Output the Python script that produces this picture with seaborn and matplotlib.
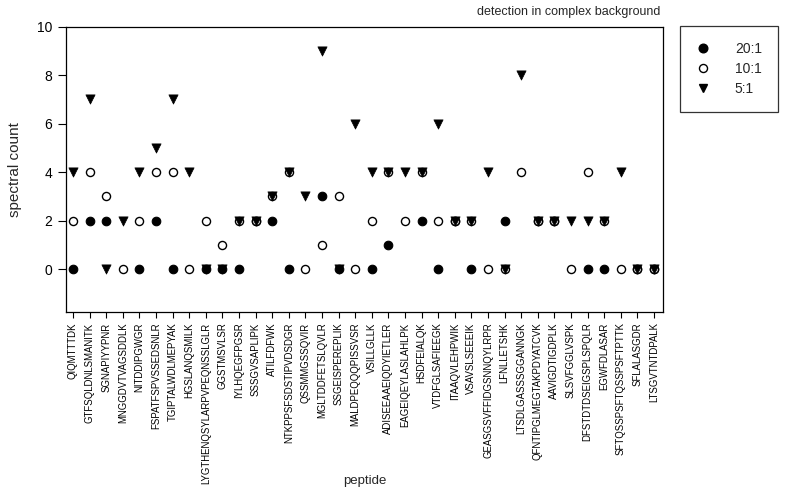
import numpy as np
import pandas as pd
import matplotlib
matplotlib.use("Agg")
import matplotlib.pyplot as plt
import seaborn as sns
from matplotlib.lines import Line2D

peptides = [
    "QIQMTTTDK", "GTFSQLDNLSMANITK", "SGNAPIYYPNR", "MNGGDVTVAGSDDLK",
    "NITDDIPGWGR", "FSPATFSPVSSEDSNLR", "TGIPTALWDLMEPYAK", "HGSLANQSMILK",
    "LYGTHENQSYLARPVPEQNSSLGLR", "GGSTMSVLSR", "IYLHQEGFPGSR", "SSSGVSAPLIPK",
    "ATILFDFWK", "NTKPPSFSDSTIPVDSDGR", "QSSMMGSSQVIR", "MGLTDDFETSLQVLR",
    "SSGEISPEREPLIK", "MALDPEQQQPISSVSR", "VSILLGLLK", "ADISEEAAEIQDYIETLER",
    "EAGEIQEYLASLAHLPK", "HSDFEIALQK", "VTDFGLSAFIEEGK", "ITAAQVLEHPWIK",
    "VSAVSLSEEEIK", "GEASGSVFFIDGSNNQYLRPR", "LFNLLETSHK", "LTSDLGASSSGGANNGK",
    "QFNTIPGLMEGTAKPDYATCVK", "AAVIGDTIGDPLK", "SLSVFGGLVSPK",
    "DFSTDTDSEIGSPLSPQLR", "EGWFDLASAR", "SFTQSSPSFTQSSPSFTPTTK",
    "SFLALASGDR", "LTSGVTNTDPALK",
]
nan = np.nan
ratio_20 = [0, 2, 2, nan, 0, 2, 0, nan, 0, 0, 0, 2, 2, 0, nan, 3, 0, nan,
            0, 1, nan, 2, 0, 2, 0, nan, 2, nan, 2, 2, nan, 0, 0, nan, 0, 0]
ratio_10 = [2, 4, 3, 0, 2, 4, 4, 0, 2, 1, 2, 2, 3, 4, 0, 1, 3, 0,
            2, 4, 2, 4, 2, 2, 2, 0, 0, 4, 2, 2, 0, 4, 2, 0, 0, 0]
ratio_5 = [4, 7, 0, 2, 4, 5, 7, 4, 0, 0, 2, 2, 3, 4, 3, 9, 0, 6,
           4, 4, 4, 4, 6, 2, 2, 4, 0, 8, 2, 2, 2, 2, 2, 4, 0, 0]
legend_labels = ["20:1", "10:1", "5:1"]

sns.set_style("ticks")
plt.rcParams["font.family"] = ["Liberation Sans", "DejaVu Sans"]

df = pd.DataFrame({"pos": np.arange(len(peptides)), "peptide": peptides,
                   "r20": ratio_20, "r10": ratio_10, "r5": ratio_5})

W, H = 787, 495
fig = plt.figure(figsize=(W / 100, H / 100), dpi=100)
ax = fig.add_axes([66 / W, 1 - 312 / H, (663 - 66) / W, (312 - 26.7) / H])

sns.scatterplot(data=df, x="pos", y="r20", ax=ax, marker="o", s=38,
                color="black", edgecolor="black", linewidth=0.8, zorder=3)
sns.scatterplot(data=df, x="pos", y="r10", ax=ax, marker="o", s=34,
                facecolor="white", edgecolor="black", linewidth=1.0, zorder=4)
sns.scatterplot(data=df, x="pos", y="r5", ax=ax, marker="v", s=44,
                color="black", edgecolor="black", linewidth=0.5, zorder=5)

ax.set_xlim(-0.42, len(peptides) - 1 + 0.54)
ax.set_ylim(-1.77, 10.0)
ax.set_yticks([0, 2, 4, 6, 8, 10])
ax.set_xticks(df["pos"])
ax.set_xticklabels(peptides, rotation=90, fontsize=6.9)
ax.tick_params(axis="y", labelsize=10, length=6, width=0.8, pad=4, colors="black")
ax.tick_params(axis="x", length=4.5, width=0.8, pad=3, colors="black")
ax.set_xlabel("")
ax.set_ylabel("")
for sp in ax.spines.values():
    sp.set_visible(True)
    sp.set_color("black")
    sp.set_linewidth(0.9)

fig.text(15 / W, 1 - 170 / H, "spectral count", rotation=90, ha="center",
         va="center", fontsize=11)
fig.text(364.5 / W, 1 - 481 / H, "peptide", ha="center", va="center", fontsize=9.5)
fig.text(660 / W, 1 - 12 / H, "detection in complex background", ha="right",
         va="center", fontsize=9)

handles = [
    Line2D([], [], marker="o", linestyle="none", markersize=6.2,
           markerfacecolor="black", markeredgecolor="black"),
    Line2D([], [], marker="o", linestyle="none", markersize=5.8,
           markerfacecolor="white", markeredgecolor="black", markeredgewidth=1.0),
    Line2D([], [], marker="v", linestyle="none", markersize=6.3,
           markerfacecolor="black", markeredgecolor="black"),
]
leg = fig.legend(handles, legend_labels, loc="upper left",
                 bbox_to_anchor=(680 / W, 1 - 26 / H), bbox_transform=fig.transFigure,
                 fontsize=10, frameon=True, fancybox=False, borderpad=1.15,
                 labelspacing=0.42, handlelength=1.0, handletextpad=1.8,
                 borderaxespad=0)
leg.get_frame().set_edgecolor("black")
leg.get_frame().set_linewidth(0.9)

fig.savefig("out.png", dpi=100)
